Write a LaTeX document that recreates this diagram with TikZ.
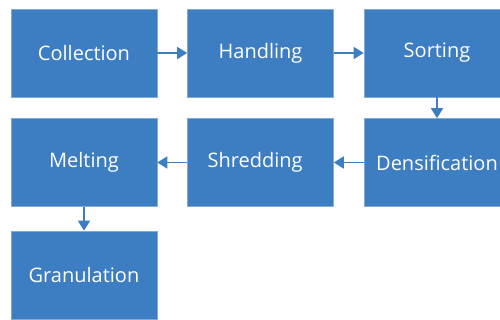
\documentclass[tikz,border=0pt]{standalone}
\usepackage{fontspec}
\setmainfont{Open Sans}
\usetikzlibrary{arrows.meta}
\definecolor{boxblue}{RGB}{61,125,194}
\definecolor{edgeblue}{RGB}{130,170,215}
\begin{document}
\begin{tikzpicture}[x=0.75pt,y=-0.75pt,
  stepbox/.style={rectangle, fill=boxblue, draw=edgeblue, line width=0.5pt,
    minimum width=109.5pt, minimum height=66pt, inner sep=0pt,
    text=white, font=\fontsize{15}{18}\selectfont},
  flow/.style={draw=boxblue, line width=1.2pt, -{Triangle[length=7.5pt,width=9pt]}}]
\clip (0,0) rectangle (500,320);
\node[stepbox] (col) at (84,53) {Collection};
\node[stepbox] (han) at (260.5,53) {Handling};
\node[stepbox] (sor) at (437,53) {Sorting};
\node[stepbox] (den) at (437,162.5) {Densification};
\node[stepbox] (shr) at (260.5,162.5) {Shredding\hspace*{8pt}};
\node[stepbox] (mel) at (84,162.5) {Melting};
\node[stepbox] (gra) at (84,275) {Granulation};
\draw[flow] (col) -- (han);
\draw[flow] (han) -- (sor);
\draw[flow] (sor) -- (den);
\draw[flow] (den) -- (shr);
\draw[flow] (shr) -- (mel);
\draw[flow] (mel) -- (gra);
\end{tikzpicture}
\end{document}
